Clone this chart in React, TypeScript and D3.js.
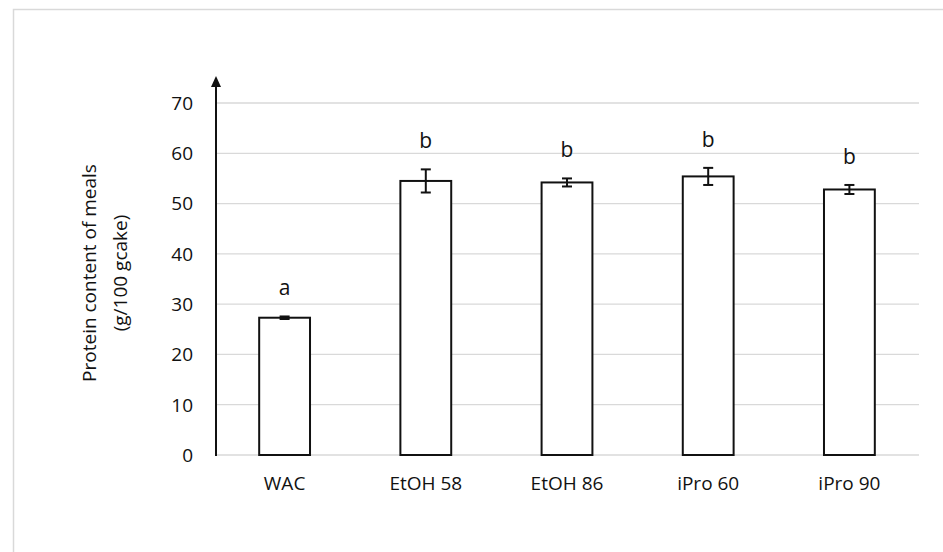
import React, { useEffect, useRef } from "react";
import * as d3 from "d3";

const categories = ["WAC", "EtOH 58", "EtOH 86", "iPro 60", "iPro 90"];
const means = [27.3, 54.5, 54.2, 55.4, 52.8];
const errors = [0.25, 2.3, 0.8, 1.7, 0.9];
const letters = ["a", "b", "b", "b", "b"];
const yTicks = [0, 10, 20, 30, 40, 50, 60, 70];

const W = 943;
const H = 552;

const App = () => {
  const ref = useRef<SVGSVGElement>(null);

  useEffect(() => {
    const svg = d3.select(ref.current);
    svg.selectAll("*").remove();
    const font = "'Open Sans', 'Noto Sans', sans-serif";
    const ink = "#111";

    // frame around the figure
    svg
      .append("rect")
      .attr("x", 13.5)
      .attr("y", 9.5)
      .attr("width", W + 20)
      .attr("height", H + 20)
      .attr("fill", "white")
      .attr("stroke", "#d9d9d9")
      .attr("stroke-width", 1.5);

    const x = d3
      .scaleBand()
      .domain(categories)
      .range([214, 920])
      .paddingInner(0.64)
      .paddingOuter(0.32);

    const y = d3.scaleLinear().domain([0, 70]).range([455, 103]);

    // gridlines
    svg
      .append("g")
      .selectAll("line")
      .data(yTicks)
      .join("line")
      .attr("x1", 216)
      .attr("x2", 919)
      .attr("y1", (d) => y(d))
      .attr("y2", (d) => y(d))
      .attr("stroke", "#d9d9d9")
      .attr("stroke-width", 1.3);

    // tick labels
    svg
      .append("g")
      .selectAll("text")
      .data(yTicks)
      .join("text")
      .attr("x", 193)
      .attr("y", (d) => y(d))
      .attr("dy", "0.36em")
      .attr("text-anchor", "end")
      .attr("font-family", font)
      .attr("font-size", 19)
      .attr("fill", ink)
      .text((d) => d);

    // bars
    svg
      .append("g")
      .selectAll("rect")
      .data(categories)
      .join("rect")
      .attr("x", (d) => x(d)!)
      .attr("width", x.bandwidth())
      .attr("y", (d, i) => y(means[i]))
      .attr("height", (d, i) => y(0) - y(means[i]))
      .attr("fill", "white")
      .attr("stroke", "#111")
      .attr("stroke-width", 2);

    // error bars
    const eg = svg.append("g").attr("stroke", "#111").attr("stroke-width", 2);
    categories.forEach((c, i) => {
      const cx = x(c)! + x.bandwidth() / 2;
      const hi = y(means[i] + errors[i]);
      const lo = y(means[i] - errors[i]);
      eg.append("line").attr("x1", cx).attr("x2", cx).attr("y1", hi).attr("y2", lo);
      eg.append("line").attr("x1", cx - 5).attr("x2", cx + 5).attr("y1", hi).attr("y2", hi);
      eg.append("line").attr("x1", cx - 5).attr("x2", cx + 5).attr("y1", lo).attr("y2", lo);
    });

    // significance letters
    svg
      .append("g")
      .selectAll("text")
      .data(categories)
      .join("text")
      .attr("x", (d) => x(d)! + x.bandwidth() / 2)
      .attr("y", (d, i) => y(means[i] + errors[i]) - 21)
      .attr("text-anchor", "middle")
      .attr("font-family", font)
      .attr("font-size", 21)
      .attr("fill", ink)
      .text((d, i) => letters[i]);

    // category labels
    svg
      .append("g")
      .selectAll("text")
      .data(categories)
      .join("text")
      .attr("x", (d) => x(d)! + x.bandwidth() / 2)
      .attr("y", 490)
      .attr("text-anchor", "middle")
      .attr("font-family", font)
      .attr("font-size", 19)
      .attr("fill", ink)
      .text((d) => d);

    // y axis with arrow
    svg
      .append("line")
      .attr("x1", 216)
      .attr("x2", 216)
      .attr("y1", 456)
      .attr("y2", 84)
      .attr("stroke", "#111")
      .attr("stroke-width", 2);
    svg
      .append("path")
      .attr("d", "M216,76 L211,87 L221,87 Z")
      .attr("fill", "#111");

    // y axis title
    const t = svg
      .append("text")
      .attr("transform", "translate(96,273) rotate(-90)")
      .attr("text-anchor", "middle")
      .attr("font-family", font)
      .attr("font-size", 19)
      .attr("fill", ink);
    t.append("tspan").attr("x", 0).attr("dy", 0).text("Protein content of meals");
    t.append("tspan").attr("x", 0).attr("dy", 31).text("(g/100 gcake)");
  }, []);

  return (
    <svg
      ref={ref}
      width={W}
      height={H}
      style={{ position: "absolute", left: 0, top: 0, background: "white" }}
    ></svg>
  );
};

export default App;
